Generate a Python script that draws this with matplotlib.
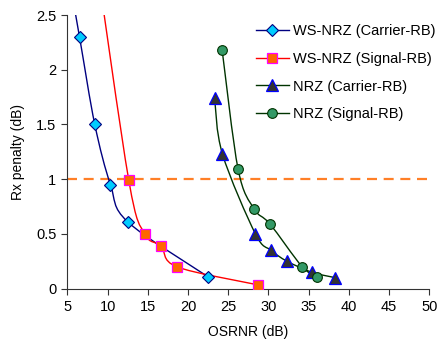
import matplotlib.pyplot as plt
import numpy as np
from matplotlib.path import Path
from matplotlib.patches import PathPatch
from matplotlib.lines import Line2D

plt.rcParams['font.family'] = ['Liberation Sans', 'DejaVu Sans']

# WS-NRZ (Carrier-RB)
ws_car_x = [4.6, 6.5, 8.4, 10.35, 12.5, 22.45]
ws_car_y = [3.1, 2.30, 1.50, 0.95, 0.61, 0.11]
# WS-NRZ (Signal-RB)
ws_sig_x = [8.4, 12.63, 14.6, 16.65, 18.6, 28.67]
ws_sig_y = [3.1, 0.99, 0.50, 0.39, 0.20, 0.035]
# NRZ (Carrier-RB)
nrz_car_x = [23.3, 24.28, 28.38, 30.33, 32.32, 35.4, 38.33]
nrz_car_y = [1.74, 1.23, 0.50, 0.35, 0.25, 0.15, 0.10]
# NRZ (Signal-RB)
nrz_sig_x = [24.24, 26.23, 28.2, 30.2, 34.2, 36.1]
nrz_sig_y = [2.18, 1.09, 0.73, 0.59, 0.20, 0.11]

threshold = 1.0
labels = ['WS-NRZ (Carrier-RB)', 'WS-NRZ (Signal-RB)', 'NRZ (Carrier-RB)', 'NRZ (Signal-RB)']


def smooth(ax, xs, ys, color):
    # excel style smoothed line: cubic bezier through points
    sx, sy = 45.0, 2.5
    p = np.column_stack([np.array(xs) / sx, np.array(ys) / sy])
    n = len(p)
    verts = [p[0]]
    codes = [Path.MOVETO]
    for i in range(n - 1):
        p0 = p[i - 1] if i > 0 else p[i]
        p1 = p[i]
        p2 = p[i + 1]
        p3 = p[i + 2] if i + 2 < n else p[i + 1]
        c1 = p1 + (p2 - p0) / 6.0
        c2 = p2 - (p3 - p1) / 6.0
        verts += [c1, c2, p2]
        codes += [Path.CURVE4] * 3
    verts = np.array(verts) * [sx, sy]
    ax.add_patch(PathPatch(Path(verts, codes), fill=False, edgecolor=color, lw=1.0, zorder=2))


fig, ax = plt.subplots(figsize=(4.38, 3.42), dpi=100)
fig.subplots_adjust(left=0.154, right=0.98, bottom=0.156, top=0.956)

ax.axhline(threshold, color='#FF7F27', lw=1.6, ls=(0, (4.5, 3)), zorder=1)

smooth(ax, ws_car_x, ws_car_y, '#000080')
smooth(ax, ws_sig_x, ws_sig_y, '#FF0000')
smooth(ax, nrz_car_x, nrz_car_y, '#003300')
smooth(ax, nrz_sig_x, nrz_sig_y, '#003300')

styles = [
    dict(color='#000080', marker='D', ms=6, mfc='#00CCFF', mec='#000080', mew=0.8),
    dict(color='#FF0000', marker='s', ms=7, mfc='#FF6600', mec='#FF00FF', mew=0.9),
    dict(color='#003300', marker='^', ms=8, mfc='#333333', mec='#0000FF', mew=0.9),
    dict(color='#003300', marker='o', ms=7, mfc='#339966', mec='#003300', mew=0.8),
]
series = [(ws_car_x, ws_car_y), (ws_sig_x, ws_sig_y), (nrz_car_x, nrz_car_y), (nrz_sig_x, nrz_sig_y)]
for (xs, ys), st in zip(series, styles):
    ax.plot(xs, ys, ls='none', zorder=3, **st)

handles = [Line2D([], [], lw=1, **st) for st in styles]
ax.legend(handles, labels, loc='upper left', bbox_to_anchor=(0.52, 0.968), frameon=False,
          fontsize=10.5, handlelength=2.3, handletextpad=0.25, labelspacing=0.95, borderpad=0,
          borderaxespad=0)

ax.set_xlim(5, 50)
ax.set_ylim(0, 2.5)
ax.set_xticks(np.arange(5, 51, 5))
ax.set_yticks([0, 0.5, 1, 1.5, 2, 2.5])
ax.set_yticklabels(['0', '0.5', '1', '1.5', '2', '2.5'])
ax.tick_params(labelsize=10.5, length=4, width=0.8, color='#333333', pad=4)
ax.spines['top'].set_visible(False)
ax.spines['right'].set_visible(False)
for s in ['left', 'bottom']:
    ax.spines[s].set_color('#333333')
    ax.spines[s].set_linewidth(0.8)
ax.set_xlabel('OSRNR (dB)', fontsize=10, labelpad=8)
ax.set_ylabel('Rx penalty (dB)', fontsize=10, labelpad=8)

plt.savefig('out.png', dpi=100)
